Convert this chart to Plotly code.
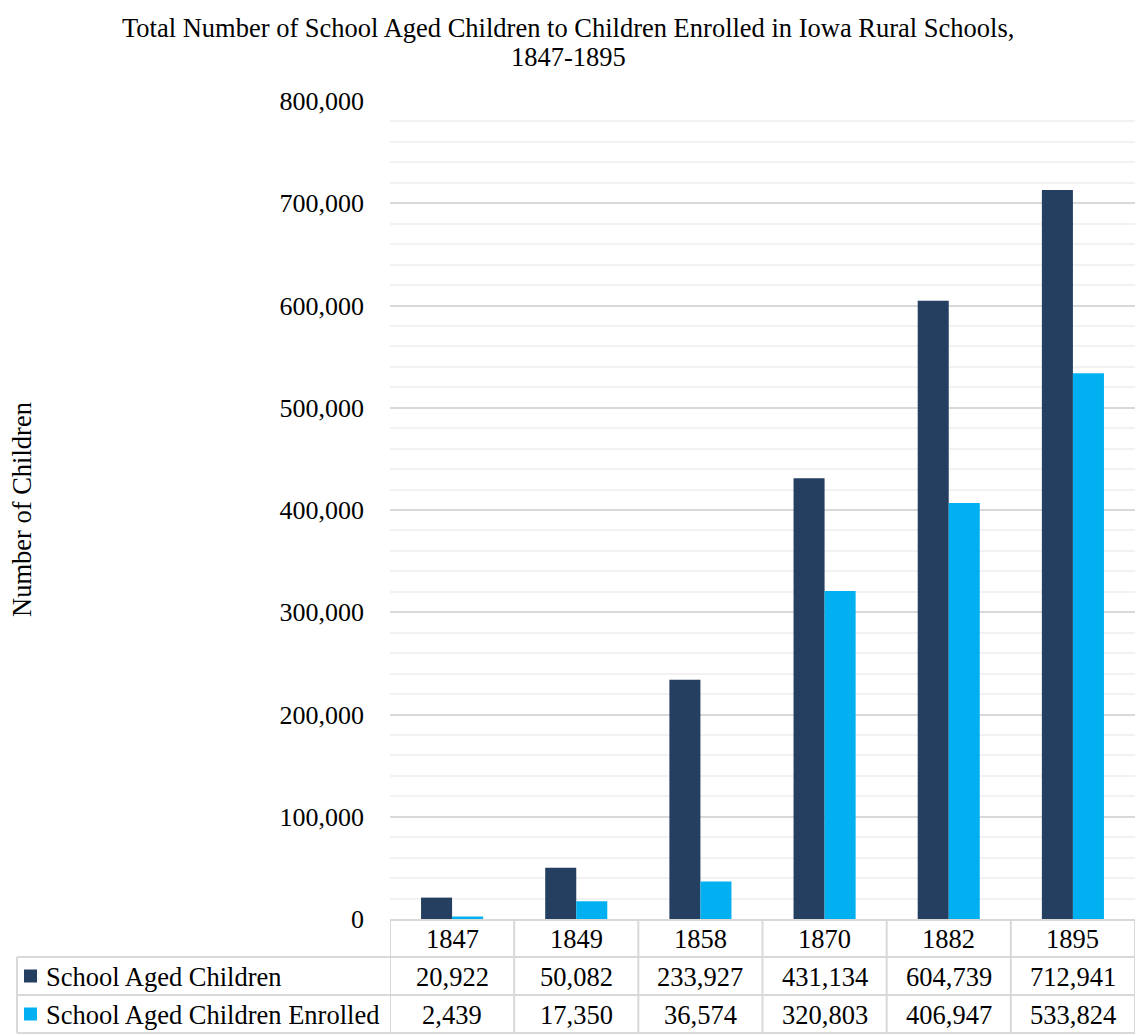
import plotly.graph_objects as go

years = ["1847", "1849", "1858", "1870", "1882", "1895"]
series_names = ["School Aged Children", "School Aged Children Enrolled"]
aged = [20922, 50082, 233927, 431134, 604739, 712941]
enrolled = [2439, 17350, 36574, 320803, 406947, 533824]
colors = ["#243F60", "#00B0F0"]
title_lines = ["Total Number of School Aged Children to Children Enrolled in Iowa Rural Schools,", "1847-1895"]
y_title = "Number of Children"

FONT = "Liberation Serif"
W, H = 1136, 1035
ML, MR, MT, MB = 390, 1, 101, 116
PW = W - ML - MR
GRID = "#D9D9D9"
TS = 26.5

fig = go.Figure()
for name, vals, col in zip(series_names, [aged, enrolled], colors):
    fig.add_trace(go.Bar(x=years, y=vals, name=name, marker=dict(color=col, line=dict(width=0))))

shapes = []
annotations = []

row_h = 38
for k in range(1, 4):
    shapes.append(dict(type="line", xref="paper", xsizemode="pixel", xanchor=0, x0=-373, x1=PW,
                       yref="paper", ysizemode="pixel", yanchor=0, y0=-row_h * k, y1=-row_h * k,
                       line=dict(color=GRID, width=2)))
for i in range(len(years) + 1):
    shapes.append(dict(type="line", xref="x", x0=i - 0.5, x1=i - 0.5,
                       yref="paper", ysizemode="pixel", yanchor=0, y0=0, y1=-row_h * 3,
                       line=dict(color=GRID, width=2)))
shapes.append(dict(type="line", xref="paper", xsizemode="pixel", xanchor=0, x0=-373, x1=-373,
                   yref="paper", ysizemode="pixel", yanchor=0, y0=-row_h, y1=-row_h * 3,
                   line=dict(color=GRID, width=2)))

for i, yv in enumerate(years):
    annotations.append(dict(x=i, xref="x", y=0, yref="paper", yshift=-row_h * 0.5 - 1,
                            text=yv, showarrow=False, yanchor="middle",
                            font=dict(family=FONT, size=TS, color="#000")))
for r, (name, vals, col) in enumerate(zip(series_names, [aged, enrolled], colors)):
    yc = -row_h * (r + 1.5)
    for i, v in enumerate(vals):
        annotations.append(dict(x=i, xref="x", y=0, yref="paper", yshift=yc - 1,
                                text=f"{v:,}", showarrow=False, yanchor="middle",
                                font=dict(family=FONT, size=TS, color="#000")))
    annotations.append(dict(x=0, xref="paper", xshift=-346, y=0, yref="paper", yshift=yc - 1,
                            text=name, showarrow=False, xanchor="left", yanchor="middle",
                            font=dict(family=FONT, size=TS, color="#000")))
    shapes.append(dict(type="rect", xref="paper", xsizemode="pixel", xanchor=0, x0=-366, x1=-353,
                       yref="paper", ysizemode="pixel", yanchor=0, y0=yc - 6.5, y1=yc + 6.5,
                       fillcolor=col, line=dict(width=0)))

annotations.append(dict(x=0, xref="paper", xshift=-368, y=0.5, yref="paper",
                        text=y_title, textangle=-90, showarrow=False,
                        xanchor="center", yanchor="middle",
                        font=dict(family=FONT, size=26.5, color="#000")))

for line, shift in zip(title_lines, [73, 44]):
    annotations.append(dict(x=0.5, xref="paper", xshift=(W / 2) - (ML + PW / 2), y=1, yref="paper",
                            yshift=shift, text=line, showarrow=False,
                            xanchor="center", yanchor="middle",
                            font=dict(family=FONT, size=26.5, color="#000")))

fig.update_layout(
    width=W, height=H,
    margin=dict(l=ML, r=MR, t=MT, b=MB),
    paper_bgcolor="white", plot_bgcolor="white",
    showlegend=False,
    barmode="group", bargap=0.5, bargroupgap=0,
    font=dict(family=FONT, color="#000"),
    xaxis=dict(type="category", showticklabels=False, ticks="", showgrid=False, showline=True,
               linecolor=GRID, linewidth=2, range=[-0.5, len(years) - 0.5]),
    yaxis=dict(range=[0, 800000], dtick=100000, tickformat=",d", showgrid=True, gridcolor=GRID,
               gridwidth=2, zeroline=False, showline=False, ticks="",
               ticklabelstandoff=25, tickfont=dict(family=FONT, size=26, color="#000"),
               minor=dict(dtick=20000, showgrid=True, gridcolor="#F2F2F2", gridwidth=2)),
    shapes=shapes,
    annotations=annotations,
)

fig.write_html("out.html")
